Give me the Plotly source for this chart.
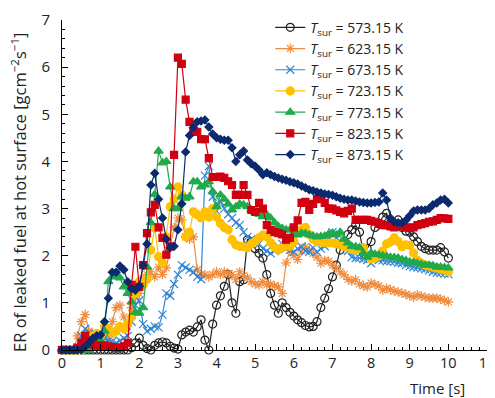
import plotly.graph_objects as go

time_s = [round(i * 0.1, 1) for i in range(101)]

er_573 = [0, 0, 0, 0, 0, 0, 0, 0, 0, 0,
          0, 0, 0, 0, 0, 0, 0, 0, 0.05, 0.15,
          0.25, 0.1, 0.03, 0.0, 0.1, 0.15, 0.17, 0.15, 0.08, 0.04,
          0.02, 0.32, 0.38, 0.42, 0.38, 0.49, 0.64, 0.21, 0.0, 0.55,
          0.95, 1.15, 1.35, 1.6, 1.0, 0.78, 1.45, 1.49, 2.34, 2.3,
          2.15, 2.05, 1.95, 1.6, 1.2, 0.95, 0.78, 1.0, 0.9, 0.8,
          0.72, 0.64, 0.58, 0.52, 0.49, 0.5, 0.6, 0.9, 1.1, 1.3,
          1.55, 1.8, 2.12, 2.3, 2.45, 2.55, 2.65, 2.5, 2.06, 2.15,
          2.3, 2.6, 2.68, 2.82, 2.9, 2.69, 2.65, 2.76, 2.6, 2.52,
          2.5, 2.4, 2.3, 2.2, 2.15, 2.12, 2.12, 2.12, 2.17, 2.08,
          1.95]

er_623 = [0, 0, 0, 0, 0.3, 0.6, 0.75, 0.4, 0.2, 0.1,
          0.15, 0.25, 0.3, 0.6, 0.9, 0.95, 0.7, 0.5, 0.9, 1.1,
          1.2, 1.5, 1.6, 1.66, 1.55, 1.76, 1.6, 1.74, 2.17, 2.6,
          2.8, 2.76, 2.4, 2.35, 2.4, 1.7, 1.6, 1.6, 1.55, 1.6,
          1.66, 1.6, 1.66, 1.62, 1.6, 1.49, 1.66, 1.58, 1.53, 1.45,
          1.4, 1.38, 1.45, 1.38, 1.4, 1.36, 1.34, 1.2, 1.85, 2.12,
          2.0, 1.92, 2.1, 2.19, 2.12, 2.05, 1.97, 1.84, 1.9, 1.88,
          1.8, 1.74, 1.66, 1.6, 1.5, 1.46, 1.49, 1.4, 1.36, 1.34,
          1.42, 1.39, 1.36, 1.27, 1.31, 1.28, 1.25, 1.23, 1.21, 1.18,
          1.15, 1.12, 1.17, 1.14, 1.12, 1.1, 1.1, 1.1, 1.08, 1.05,
          1.02]

er_673 = [0, 0, 0, 0, 0.05, 0.3, 0.45, 0.35, 0.25, 0.2,
          0.2, 0.25, 0.2, 0.18, 0.15, 0.2, 0.25, 0.3, 0.6, 0.95,
          1.05, 0.55, 0.4, 0.45, 0.5, 0.48, 0.75, 1.2, 1.15, 1.4,
          1.6, 1.8, 1.75, 1.7, 1.65, 1.55, 1.5, 3.7, 3.9, 3.25,
          2.95, 3.15, 3.0, 2.88, 2.8, 2.7, 2.65, 2.5, 2.4, 2.35,
          2.3, 2.25, 2.15, 2.1, 2.05, 2.1, 2.2, 2.25, 2.15, 2.12,
          2.08, 2.15, 2.19, 2.1, 2.08, 2.17, 2.08, 2.15, 2.2, 2.34,
          2.5, 2.38, 2.3, 2.25, 2.1, 1.97, 1.95, 1.95, 1.93, 1.91,
          1.84, 1.95, 1.91, 1.9, 1.88, 1.88, 1.87, 1.85, 1.84, 1.8,
          1.78, 1.76, 1.75, 1.73, 1.71, 1.69, 1.66, 1.64, 1.63, 1.62,
          1.61]

er_723 = [0, 0, 0, 0, 0, 0, 0.05, 0.15, 0.3, 0.35,
          0.3, 0.5, 0.45, 0.35, 0.4, 0.5, 0.45, 0.55, 0.7, 1.2,
          1.45, 1.38, 1.5, 2.12, 2.59, 1.98, 1.85, 2.4, 3.04, 3.2,
          3.46, 3.29, 2.4, 2.5, 2.93, 2.87, 2.8, 2.93, 2.82, 3.0,
          2.82, 2.69, 2.6, 2.55, 2.34, 2.23, 2.2, 2.19, 2.17, 2.25,
          2.3, 2.38, 2.44, 2.4, 2.28, 2.18, 2.12, 2.17, 2.27, 2.2,
          2.3, 2.48, 2.55, 2.6, 2.45, 2.35, 2.3, 2.29, 2.28, 2.27,
          2.27, 2.25, 2.23, 2.2, 2.19, 2.13, 2.12, 2.15, 2.17, 2.0,
          1.93, 1.95, 2.0, 2.1, 2.25, 2.29, 2.38, 2.3, 2.19, 2.23,
          2.22, 2.06, 1.9, 1.84, 1.8, 1.78, 1.76, 1.74, 1.72, 1.7,
          1.66]

er_773 = [0, 0, 0, 0, 0, 0, 0, 0, 0.05, 0.1,
          0.2, 0.4, 1.45, 1.55, 1.6, 1.53, 1.34, 1.2, 1.02, 0.8,
          0.78, 0.9, 1.76, 2.7, 3.3, 4.22, 3.97, 4.0, 3.46, 3.0,
          3.0, 3.25, 3.22, 3.25, 3.57, 3.57, 3.46, 3.5, 3.57, 3.36,
          3.04, 3.29, 3.2, 3.1, 2.97, 3.04, 3.1, 3.08, 3.04, 2.97,
          2.92, 2.88, 2.83, 2.87, 2.8, 2.7, 2.62, 2.58, 2.55, 2.55,
          2.48, 2.44, 2.48, 2.47, 2.44, 2.42, 2.4, 2.41, 2.42, 2.46,
          2.48, 2.44, 2.5, 2.35, 2.27, 2.2, 2.19, 2.17, 2.05, 1.97,
          2.06, 2.03, 2.02, 2.0, 1.99, 1.97, 1.96, 1.95, 1.92, 1.9,
          1.87, 1.86, 1.84, 1.82, 1.8, 1.8, 1.79, 1.76, 1.76, 1.75,
          1.74]

er_823 = [0, 0, 0, 0, 0.05, 0.15, 0.3, 0.2, 0.12, 0.1,
          0.08, 0.1, 0.08, 0.06, 0.05, 0.05, 0.08, 0.15, 1.38, 2.19,
          1.34, 1.8, 2.48, 2.92, 3.08, 2.6, 2.38, 2.02, 2.2, 4.14,
          6.2, 6.07, 5.31, 4.84, 4.63, 4.63, 4.47, 4.47, 4.07, 3.67,
          3.67, 3.68, 3.65, 3.58, 3.5, 3.29, 3.29, 3.5, 3.29, 2.97,
          2.93, 3.12, 3.0, 2.65, 2.55, 2.5, 2.48, 2.45, 2.34, 2.38,
          2.6, 2.75, 3.12, 3.14, 2.97, 3.1, 3.2, 3.25, 3.12, 3.0,
          3.0, 2.96, 2.93, 2.9, 2.95, 3.0, 2.76, 2.76, 2.76, 2.76,
          2.74, 2.72, 2.68, 2.65, 2.65, 2.62, 2.6, 2.63, 2.65, 2.6,
          2.59, 2.6, 2.65, 2.67, 2.69, 2.72, 2.73, 2.76, 2.8, 2.79,
          2.78]

er_873 = [0, 0, 0, 0, 0, 0, 0.07, 0.15, 0.25, 0.3,
          0.32, 0.6, 1.1, 1.65, 1.65, 1.78, 1.7, 1.45, 1.3, 1.27,
          1.35, 1.8, 2.25, 3.5, 3.75, 3.2, 2.8, 2.35, 2.17, 2.2,
          2.55, 3.1, 4.2, 4.55, 4.72, 4.84, 4.86, 4.88, 4.73, 4.58,
          4.5, 4.47, 4.45, 4.45, 4.29, 4.0, 4.14, 4.22, 4.03, 3.95,
          3.9, 3.82, 3.72, 3.76, 3.72, 3.68, 3.65, 3.62, 3.6, 3.57,
          3.55, 3.52, 3.48, 3.44, 3.4, 3.38, 3.35, 3.33, 3.31, 3.3,
          3.28, 3.25, 3.22, 3.2, 3.18, 3.18, 3.16, 3.14, 3.13, 3.12,
          3.12, 3.13, 3.14, 3.33, 3.18, 2.8, 2.72, 2.7, 2.7, 2.75,
          2.85, 2.95, 2.97, 2.97, 2.97, 3.0, 3.08, 3.12, 3.18, 3.2,
          3.12]

labels = ["573.15", "623.15", "673.15", "723.15", "773.15", "823.15", "873.15"]
series = [er_573, er_623, er_673, er_723, er_773, er_823, er_873]
colors = ["#222222", "#f08c3e", "#2f86d2", "#ffc000", "#1faa4b", "#d00010", "#0c2a6e"]
symbols = ["circle-open", "asterisk-open", "x-thin-open", "circle", "triangle-up", "square", "diamond"]
sizes = [8, 8, 8, 8, 8, 7, 6]

fig = go.Figure()
for lab, ys, col, sym, sz in zip(labels, series, colors, symbols, sizes):
    fig.add_trace(go.Scatter(
        x=time_s, y=ys, mode="lines+markers",
        name=f"<i>T</i><sub>sur</sub> = {lab} K",
        line=dict(color=col, width=1.2),
        marker=dict(symbol=sym, size=sz, color=col,
                    line=dict(color=col, width=1.2)),
        cliponaxis=False,
    ))

font_family = "Open Sans, Lato, sans-serif"
# page body adds an 8px offset, so the figure is sized to fit the remaining window
fig.update_layout(
    width=487, height=390,
    margin=dict(l=54, r=8, t=12, b=48, autoexpand=False),
    paper_bgcolor="white", plot_bgcolor="white",
    font=dict(family=font_family, size=15, color="#222"),
    showlegend=True,
    legend=dict(x=0.49, y=1.025, xanchor="left", yanchor="top",
                bgcolor="rgba(255,255,255,0)", font=dict(size=14)),
    xaxis=dict(range=[0, 11], dtick=1, showline=True, linecolor="black", linewidth=1,
               ticks="inside", ticklen=6, tickcolor="black", showgrid=False, zeroline=False,
               minor=dict(dtick=0.2, ticks="inside", ticklen=3, tickcolor="black"),
               tickfont=dict(size=14.5), automargin=False, ticklabeloverflow="allow"),
    yaxis=dict(range=[0, 7], dtick=1, showline=True, linecolor="black", linewidth=1,
               ticks="inside", ticklen=6, tickcolor="black", showgrid=False, zeroline=False,
               minor=dict(dtick=0.2, ticks="inside", ticklen=3, tickcolor="black"),
               tickfont=dict(size=15), automargin=False, ticklabelstandoff=8,
               ticklabeloverflow="allow"),
    annotations=[
        dict(text="Time [s]", xref="paper", yref="paper", x=0.953, y=-0.079,
             xanchor="right", yanchor="top", showarrow=False, font=dict(size=15)),
        dict(text="ER of leaked fuel at hot surface [gcm<sup>−2</sup>s<sup>−1</sup>]",
             xref="paper", yref="paper", x=-0.101, y=0.476, textangle=-90,
             xanchor="center", yanchor="middle", showarrow=False, font=dict(size=16.5)),
    ],
)

fig.write_html("out.html")
